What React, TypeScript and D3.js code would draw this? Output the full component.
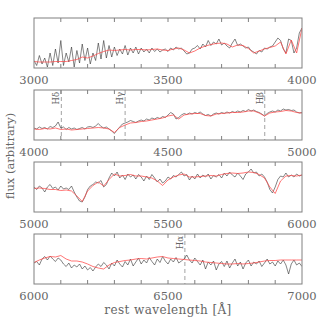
import React from "react";
import * as d3 from "d3";

// ---- data (flux in arbitrary units, per panel) ----
const panelStarts = [3000, 4000, 5000, 6000];
const fluxStep = 10;
const modelStep = 20;

const flux1 = [
  0.15, 0.05, 0.25, 0.08, 0.2, 0.02, 0.3, 0.05, 0.38, 0.1, 0.55, 0.05, 0.3, 0.12, 0.42, 0.02, 0.35, 0.1, 0.48, 0.15,
  0.4, 0.08, 0.3, 0.15, 0.5, 0.18, 0.55, 0.2, 0.45, 0.22, 0.42, 0.25, 0.38, 0.28, 0.45, 0.26, 0.4, 0.3, 0.42, 0.28,
  0.4, 0.32, 0.38, 0.3, 0.4, 0.33, 0.38, 0.32, 0.36, 0.38, 0.33, 0.4, 0.36, 0.42, 0.38, 0.4, 0.34, 0.28, 0.3, 0.38,
  0.4, 0.45, 0.38, 0.48, 0.42, 0.55, 0.45, 0.52, 0.48, 0.58, 0.46, 0.5, 0.44, 0.4, 0.5, 0.58, 0.45, 0.48, 0.44, 0.4,
  0.42, 0.35, 0.32, 0.28, 0.35, 0.32, 0.4, 0.38, 0.42, 0.44, 0.52, 0.6, 0.55, 0.38, 0.3, 0.58, 0.55, 0.3, 0.4, 0.7, 0.8,
];
const model1 = [
  0.13, 0.12, 0.12, 0.12, 0.13, 0.13, 0.13, 0.15, 0.17, 0.22, 0.2, 0.24, 0.29, 0.33, 0.36, 0.35, 0.36, 0.37, 0.36, 0.37,
  0.37, 0.36, 0.37, 0.38, 0.36, 0.35, 0.38, 0.4, 0.36, 0.3, 0.34, 0.4, 0.44, 0.47, 0.49, 0.5, 0.48, 0.42, 0.46, 0.45,
  0.39, 0.3, 0.34, 0.38, 0.41, 0.44, 0.52, 0.28, 0.56, 0.3, 0.8,
];
const flux2 = [
  0.24, 0.22, 0.26, 0.23, 0.25, 0.22, 0.27, 0.25, 0.28, 0.36, 0.24, 0.26, 0.21, 0.25, 0.22, 0.24, 0.21, 0.23, 0.25, 0.22,
  0.26, 0.27, 0.25, 0.28, 0.33, 0.27, 0.24, 0.26, 0.22, 0.18, 0.13, 0.2, 0.26, 0.32, 0.34, 0.36, 0.39, 0.37, 0.35, 0.38,
  0.4, 0.38, 0.42, 0.4, 0.44, 0.42, 0.45, 0.43, 0.47, 0.45, 0.5, 0.55, 0.52, 0.42, 0.45, 0.5, 0.53, 0.51, 0.54, 0.52,
  0.55, 0.53, 0.56, 0.52, 0.49, 0.51, 0.48, 0.52, 0.54, 0.52, 0.55, 0.53, 0.56, 0.54, 0.57, 0.55, 0.58, 0.56, 0.59, 0.57,
  0.61, 0.58, 0.6, 0.57, 0.55, 0.52, 0.48, 0.53, 0.56, 0.58, 0.56, 0.6, 0.58, 0.62, 0.6, 0.61, 0.59, 0.6, 0.56, 0.54, 0.55,
];
const model2 = [
  0.22, 0.21, 0.23, 0.22, 0.24, 0.21, 0.22, 0.2, 0.21, 0.22, 0.23, 0.24, 0.25, 0.24, 0.22, 0.15, 0.25, 0.3, 0.34, 0.35,
  0.37, 0.38, 0.4, 0.42, 0.44, 0.48, 0.5, 0.42, 0.5, 0.52, 0.53, 0.53, 0.49, 0.48, 0.52, 0.53, 0.54, 0.55, 0.55, 0.56,
  0.58, 0.58, 0.54, 0.48, 0.54, 0.56, 0.57, 0.59, 0.58, 0.55, 0.54,
];
const flux3 = [
  0.5, 0.45, 0.52, 0.48, 0.4, 0.5, 0.55, 0.47, 0.5, 0.44, 0.52, 0.46, 0.48, 0.45, 0.52, 0.4, 0.3, 0.22, 0.2, 0.3,
  0.45, 0.52, 0.55, 0.6, 0.58, 0.63, 0.5, 0.55, 0.68, 0.78, 0.72, 0.8, 0.68, 0.74, 0.65, 0.76, 0.7, 0.74, 0.66, 0.75,
  0.7, 0.62, 0.72, 0.65, 0.75, 0.68, 0.6, 0.66, 0.58, 0.62, 0.7, 0.66, 0.73, 0.7, 0.75, 0.8, 0.72, 0.75, 0.64, 0.72,
  0.66, 0.76, 0.68, 0.74, 0.7, 0.76, 0.66, 0.73, 0.7, 0.75, 0.68, 0.78, 0.72, 0.8, 0.74, 0.7, 0.78, 0.72, 0.65, 0.76,
  0.8, 0.86, 0.78, 0.8, 0.72, 0.76, 0.7, 0.6, 0.45, 0.38, 0.5, 0.65, 0.72, 0.7, 0.78, 0.7, 0.74, 0.7, 0.76, 0.72, 0.74,
];
const model3 = [
  0.47, 0.48, 0.47, 0.45, 0.45, 0.43, 0.44, 0.42, 0.32, 0.21, 0.42, 0.53, 0.6, 0.52, 0.65, 0.76, 0.72, 0.73, 0.75, 0.72,
  0.72, 0.7, 0.68, 0.62, 0.53, 0.64, 0.7, 0.74, 0.76, 0.7, 0.7, 0.71, 0.72, 0.73, 0.72, 0.75, 0.77, 0.78, 0.77, 0.78,
  0.8, 0.79, 0.75, 0.68, 0.5, 0.37, 0.62, 0.72, 0.73, 0.72, 0.74,
];
const flux4 = [
  0.42, 0.45, 0.38, 0.5, 0.55, 0.48, 0.56, 0.5, 0.45, 0.52, 0.48, 0.4, 0.35, 0.42, 0.32, 0.38, 0.34, 0.4, 0.3, 0.36,
  0.28, 0.33, 0.26, 0.34, 0.4, 0.35, 0.43, 0.38, 0.3, 0.42, 0.36, 0.48, 0.4, 0.34, 0.45, 0.38, 0.5, 0.36, 0.44, 0.52,
  0.4, 0.48, 0.42, 0.53, 0.45, 0.38, 0.5, 0.43, 0.55, 0.46, 0.4, 0.5, 0.44, 0.53, 0.42, 0.46, 0.5, 0.58, 0.48, 0.42,
  0.52, 0.45, 0.38, 0.48, 0.3, 0.44, 0.38, 0.46, 0.28, 0.4, 0.45, 0.35, 0.46, 0.32, 0.42, 0.5, 0.36, 0.44, 0.3, 0.42,
  0.48, 0.36, 0.44, 0.4, 0.46, 0.35, 0.42, 0.5, 0.4, 0.44, 0.36, 0.46, 0.4, 0.48, 0.38, 0.2, 0.4, 0.48, 0.38, 0.42, 0.35,
];
const model4 = [
  0.43, 0.48, 0.52, 0.55, 0.54, 0.57, 0.5, 0.46, 0.46, 0.44, 0.4, 0.35, 0.32, 0.3, 0.38, 0.43, 0.45, 0.47, 0.48, 0.5,
  0.51, 0.5, 0.52, 0.54, 0.55, 0.52, 0.51, 0.5, 0.49, 0.48, 0.47, 0.46, 0.44, 0.43, 0.42, 0.41, 0.4, 0.4, 0.41, 0.4,
  0.41, 0.42, 0.44, 0.46, 0.47, 0.47, 0.48, 0.48, 0.48, 0.48, 0.48,
];

const fluxes = [flux1, flux2, flux3, flux4];
const models = [model1, model2, model3, model4];

const lineNames = ["Hδ", "Hγ", "Hβ", "Hα"];
const lineWaves = [4102, 4340, 4861, 6563];

const xTitle = "rest wavelength [Å]";
const yTitle = "flux (arbitrary)";

// ---- layout ----
const W = 319;
const H = 319;
const left = 34;
const right = 302;
const panelTops = [18, 90, 162, 234];
const panelH = 50;
const frameColor = "#808080";
const textColor = "#666";
const font = "'DejaVu Serif', serif";

function Panel({ idx }: { idx: number }) {
  const start = panelStarts[idx];
  const top = panelTops[idx];
  const x = d3.scaleLinear().domain([start, start + 1000]).range([left, right]);
  const y = d3.scaleLinear().domain([0, 1]).range([top + panelH, top]);
  const flux = fluxes[idx];
  const model = models[idx];
  const lineF = d3
    .line<number>()
    .x((_, i) => x(start + i * fluxStep))
    .y((v) => y(v));
  const lineM = d3
    .line<number>()
    .x((_, i) => x(start + i * modelStep))
    .y((v) => y(v));
  const ticks = d3.range(start + 100, start + 1000, 100);
  const labels = [start, start + 500, start + 1000];
  const marks = lineWaves
    .map((w, i) => ({ w, name: lineNames[i] }))
    .filter((m) => m.w > start && m.w < start + 1000);
  const clipId = `clip${idx}`;
  return (
    <g>
      <defs>
        <clipPath id={clipId}>
          <rect x={left} y={top} width={right - left} height={panelH} />
        </clipPath>
      </defs>
      {marks.map((m) => (
        <g key={m.name}>
          <line
            x1={x(m.w)}
            x2={x(m.w)}
            y1={top}
            y2={top + panelH}
            stroke="#8a8a8a"
            strokeWidth={0.8}
            strokeDasharray="4,3"
          />
          <text
            transform={`translate(${x(m.w) - 2},${top + 2}) rotate(-90)`}
            textAnchor="end"
            fontFamily={font}
            fontSize={8.5}
            fill={textColor}
          >
            {m.name}
          </text>
        </g>
      ))}
      <g clipPath={`url(#${clipId})`}>
        <path d={lineF(flux) || ""} fill="none" stroke="#333" strokeWidth={0.6} />
        <path d={lineM(model) || ""} fill="none" stroke="#ff4a4a" strokeWidth={0.9} strokeOpacity={0.85} />
      </g>
      <rect x={left} y={top} width={right - left} height={panelH} fill="none" stroke={frameColor} strokeWidth={1} />
      {ticks.map((t) => (
        <g key={t}>
          <line x1={x(t)} x2={x(t)} y1={top} y2={top + 4} stroke={frameColor} strokeWidth={1} />
          <line x1={x(t)} x2={x(t)} y1={top + panelH} y2={top + panelH - 4} stroke={frameColor} strokeWidth={1} />
        </g>
      ))}
      {labels.map((l) => (
        <text
          key={l}
          x={x(l)}
          y={top + panelH + 16}
          textAnchor="middle"
          fontFamily={font}
          fontSize={11.5}
          fill={textColor}
        >
          {l}
        </text>
      ))}
    </g>
  );
}

export default function App() {
  return (
    <svg
      width={W}
      height={H}
      style={{ position: "absolute", left: 0, top: 0, background: "#fff" }}
    >
      <rect width={W} height={H} fill="#fff" />
      {panelStarts.map((_, i) => (
        <Panel key={i} idx={i} />
      ))}
      <text
        x={168}
        y={314}
        textAnchor="middle"
        fontFamily={font}
        fontSize={12}
        letterSpacing={0.4}
        fill={textColor}
      >
        {xTitle}
      </text>
      <text
        transform={`translate(14,156) rotate(-90)`}
        textAnchor="middle"
        fontFamily={font}
        fontSize={11.5}
        fill={textColor}
      >
        {yTitle}
      </text>
    </svg>
  );
}
